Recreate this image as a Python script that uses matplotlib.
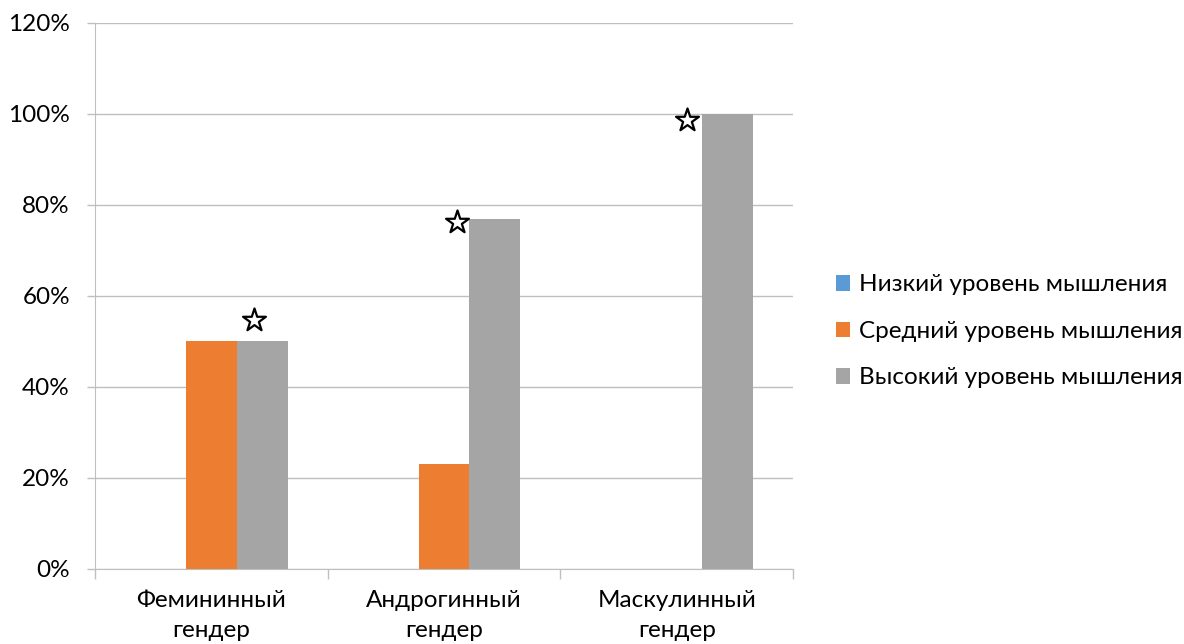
import matplotlib
matplotlib.use("Agg")
import matplotlib.pyplot as plt
import numpy as np
from matplotlib.ticker import FixedLocator, PercentFormatter

categories = ["Фемининный\nгендер", "Андрогинный\nгендер", "Маскулинный\nгендер"]
series_names = ["Низкий уровень мышления", "Средний уровень мышления", "Высокий уровень мышления"]
low = [0, 0, 0]
mid = [50, 23, 0]
high = [50, 77, 100]
star_values = [54.7, 76.3, 98.7]
colors = ["#5B9BD5", "#ED7D31", "#A5A5A5"]

plt.rcParams['font.family'] = ['Lato', 'DejaVu Sans']
FS = 17.5

fig = plt.figure(figsize=(11.84, 6.44), dpi=100)
ax = fig.add_axes([0.0802, 0.1165, 0.5896, 0.8478])

x = np.arange(len(categories))
w = 0.219
for k, (vals, name, c) in enumerate(zip([low, mid, high], series_names, colors)):
    ax.bar(x + (k - 1) * w, vals, width=w, color=c, label=name, zorder=2)

star_dx = [0.183, 0.056, 0.044]
ax.scatter(x + np.array(star_dx), star_values, marker="*", s=300,
           facecolor="white", edgecolor="black", linewidth=1.6, zorder=3)

ax.set_xlim(-0.5, 2.5)
ax.set_ylim(0, 120)
ax.set_yticks(np.arange(0, 121, 20))
ax.yaxis.set_major_formatter(PercentFormatter(decimals=0))
ax.grid(axis="y", color="#BFBFBF", linewidth=1, zorder=0)
ax.set_xticks(x)
ax.set_xticklabels(categories, fontsize=FS, linespacing=1.55)
ax.xaxis.set_minor_locator(FixedLocator([-0.5, 0.5, 1.5, 2.5]))
ax.tick_params(axis="x", which="major", length=0, pad=15)
ax.tick_params(axis="x", which="minor", length=7, color="#BFBFBF", width=1)
ax.tick_params(axis="y", length=6, color="#BFBFBF", width=1, labelsize=FS, pad=12)
for s in ["top", "right"]:
    ax.spines[s].set_visible(False)
ax.spines["left"].set_color("#BFBFBF")
ax.spines["bottom"].set_color("#BFBFBF")

leg = ax.legend(loc="center left", bbox_to_anchor=(1.03, 0.435), frameon=False,
                fontsize=FS, handlelength=0.6, handleheight=0.6,
                handletextpad=0.35, labelspacing=1.05)

fig.savefig("out.png", dpi=100)
